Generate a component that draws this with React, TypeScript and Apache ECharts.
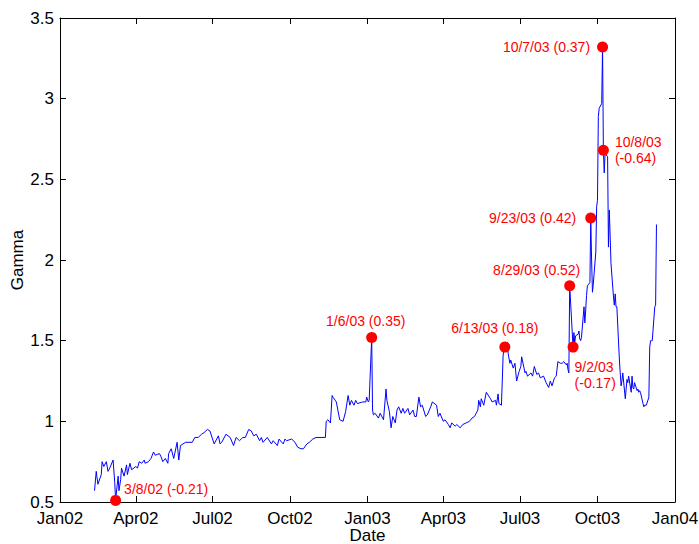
import React, { useEffect, useRef } from "react";
import * as echarts from "echarts";

const dates: string[] = [
  "2002-02-11","2002-02-13","2002-02-15","2002-02-19","2002-02-20","2002-02-22","2002-02-25","2002-02-27",
  "2002-03-01","2002-03-05","2002-03-07","2002-03-08","2002-03-11","2002-03-12","2002-03-14","2002-03-15",
  "2002-03-18","2002-03-21","2002-03-22","2002-03-25","2002-03-27","2002-04-01","2002-04-03","2002-04-05",
  "2002-04-08","2002-04-11","2002-04-12","2002-04-16","2002-04-19","2002-04-22","2002-04-24","2002-04-29",
  "2002-05-01","2002-05-03","2002-05-06","2002-05-09","2002-05-10","2002-05-13","2002-05-16","2002-05-20",
  "2002-05-22","2002-05-24","2002-05-30","2002-06-07","2002-06-10","2002-06-14","2002-06-18","2002-06-21",
  "2002-06-25","2002-06-28","2002-07-03","2002-07-08","2002-07-10","2002-07-12","2002-07-17","2002-07-22",
  "2002-07-26","2002-07-29","2002-08-02","2002-08-06","2002-08-09","2002-08-13","2002-08-16","2002-08-19",
  "2002-08-22","2002-08-26","2002-08-28","2002-08-30","2002-09-04","2002-09-09","2002-09-11","2002-09-16",
  "2002-09-18","2002-09-23","2002-09-25","2002-09-27","2002-10-03","2002-10-07","2002-10-10","2002-10-14",
  "2002-10-17","2002-10-21","2002-10-24","2002-10-28","2002-11-01","2002-11-08","2002-11-12","2002-11-13",
  "2002-11-15","2002-11-18","2002-11-20","2002-11-21","2002-11-25","2002-11-29","2002-12-03","2002-12-06",
  "2002-12-09","2002-12-11","2002-12-13","2002-12-16","2002-12-18","2002-12-20","2002-12-26","2002-12-30",
  "2002-12-31","2003-01-02","2003-01-03","2003-01-06","2003-01-07","2003-01-08","2003-01-10","2003-01-14",
  "2003-01-16","2003-01-20","2003-01-23","2003-01-24","2003-01-27","2003-01-29","2003-01-31","2003-02-03",
  "2003-02-05","2003-02-07","2003-02-10","2003-02-12","2003-02-14","2003-02-18","2003-02-20","2003-02-24",
  "2003-02-26","2003-02-28","2003-03-03","2003-03-05","2003-03-07","2003-03-11","2003-03-13","2003-03-17",
  "2003-03-19","2003-03-24","2003-03-26","2003-03-28","2003-04-01","2003-04-03","2003-04-07","2003-04-09",
  "2003-04-11","2003-04-15","2003-04-17","2003-04-21","2003-04-24","2003-04-28","2003-05-02","2003-05-05",
  "2003-05-08","2003-05-12","2003-05-13","2003-05-15","2003-05-16","2003-05-19","2003-05-22","2003-05-27",
  "2003-05-29","2003-06-02","2003-06-03","2003-06-05","2003-06-06","2003-06-09","2003-06-11","2003-06-12",
  "2003-06-13","2003-06-16","2003-06-17","2003-06-19","2003-06-20","2003-06-23","2003-06-25","2003-06-27",
  "2003-06-30","2003-07-02","2003-07-03","2003-07-07","2003-07-08","2003-07-10","2003-07-14","2003-07-16",
  "2003-07-18","2003-07-21","2003-07-23","2003-07-25","2003-07-29","2003-08-01","2003-08-04","2003-08-06",
  "2003-08-08","2003-08-11","2003-08-13","2003-08-15","2003-08-18","2003-08-20","2003-08-22","2003-08-25",
  "2003-08-26","2003-08-27","2003-08-28","2003-08-29","2003-09-02","2003-09-03","2003-09-04","2003-09-05",
  "2003-09-08","2003-09-09","2003-09-10","2003-09-11","2003-09-12","2003-09-15","2003-09-16","2003-09-17",
  "2003-09-18","2003-09-19","2003-09-22","2003-09-23","2003-09-24","2003-09-25","2003-09-26","2003-09-29",
  "2003-09-30","2003-10-01","2003-10-02","2003-10-03","2003-10-06","2003-10-07","2003-10-08","2003-10-09",
  "2003-10-10","2003-10-13","2003-10-14","2003-10-15","2003-10-16","2003-10-17","2003-10-20","2003-10-21",
  "2003-10-22","2003-10-23","2003-10-24","2003-10-27","2003-10-28","2003-10-29","2003-10-30","2003-10-31",
  "2003-11-03","2003-11-04","2003-11-05","2003-11-06","2003-11-07","2003-11-10","2003-11-11","2003-11-12",
  "2003-11-13","2003-11-14","2003-11-17","2003-11-18","2003-11-19","2003-11-20","2003-11-21","2003-11-24",
  "2003-11-25","2003-11-26","2003-11-28","2003-12-01","2003-12-02","2003-12-03","2003-12-04","2003-12-05",
  "2003-12-08","2003-12-09","2003-12-10",
];

const gamma: number[] = [
  0.57,0.69,0.61,0.67,0.75,0.72,0.75,0.69,
  0.71,0.76,0.62,0.51,0.66,0.57,0.64,0.71,
  0.66,0.73,0.67,0.74,0.70,0.72,0.71,0.75,
  0.74,0.76,0.74,0.75,0.77,0.81,0.79,0.80,
  0.78,0.75,0.77,0.74,0.80,0.83,0.77,0.87,
  0.76,0.85,0.87,0.87,0.90,0.90,0.92,0.93,
  0.95,0.94,0.86,0.91,0.86,0.87,0.92,0.90,
  0.85,0.90,0.88,0.90,0.90,0.95,0.94,0.91,
  0.92,0.88,0.90,0.87,0.90,0.86,0.88,0.85,
  0.89,0.86,0.89,0.88,0.89,0.87,0.84,0.83,
  0.83,0.86,0.87,0.89,0.90,0.90,0.90,1.00,
  1.01,0.99,1.16,1.15,1.12,1.01,1.00,1.06,
  1.16,1.10,1.13,1.10,1.13,1.11,1.12,1.12,
  1.15,1.12,1.13,1.52,1.07,1.04,1.05,1.02,
  1.05,1.01,1.20,1.13,1.06,0.96,1.03,0.99,
  1.07,1.09,1.05,1.08,1.05,1.08,1.04,1.07,
  1.03,1.03,1.15,1.09,1.10,1.03,1.04,1.09,
  1.12,1.10,1.03,1.05,1.00,1.01,0.98,0.96,
  0.99,0.97,0.98,0.96,0.98,0.99,1.00,1.02,
  1.03,1.07,1.13,1.09,1.14,1.10,1.18,1.14,
  1.12,1.13,1.10,1.17,1.11,1.10,1.41,1.44,
  1.46,1.49,1.42,1.36,1.38,1.33,1.36,1.25,
  1.31,1.34,1.40,1.30,1.31,1.28,1.30,1.28,
  1.34,1.29,1.30,1.27,1.28,1.24,1.21,1.25,
  1.22,1.27,1.28,1.37,1.36,1.36,1.37,1.35,
  1.36,1.32,1.30,1.84,1.46,1.55,1.49,1.53,
  1.54,1.56,1.51,1.50,1.52,1.71,1.61,1.69,
  1.78,1.84,1.86,2.26,2.00,1.80,1.85,2.05,
  2.33,2.37,2.89,2.94,2.97,3.32,2.68,2.54,
  2.66,2.64,2.08,2.31,2.15,1.98,1.77,1.72,
  1.79,1.71,1.71,1.38,1.30,1.22,1.25,1.30,
  1.14,1.20,1.26,1.24,1.28,1.18,1.28,1.21,
  1.20,1.24,1.19,1.20,1.18,1.19,1.18,1.11,
  1.09,1.10,1.10,1.15,1.46,1.50,1.50,1.50,
  1.71,1.72,2.22,
];

const eventDates: string[] = ["2002-03-08","2003-01-06","2003-06-13","2003-08-29","2003-09-02","2003-09-23","2003-10-07","2003-10-08"];
const eventGamma: number[] = [0.51, 1.52, 1.46, 1.84, 1.46, 2.26, 3.32, 2.68];
const eventLabels: string[] = ["3/8/02 (-0.21)","1/6/03 (0.35)","6/13/03 (0.18)","8/29/03 (0.52)","9/2/03\n(-0.17)","9/23/03 (0.42)","10/7/03 (0.37)","10/8/03\n(-0.64)"];

const monthNames = ["Jan","Feb","Mar","Apr","May","Jun","Jul","Aug","Sep","Oct","Nov","Dec"];
const FONT = "'Liberation Sans', Arial, Helvetica, sans-serif";

const labelLayouts: any[] = [
  { position: "right", distance: 3, offset: [0, -11] },
  { position: "top", distance: 3, offset: [-6, 0] },
  { position: "top", distance: 6, offset: [-10, 0] },
  { position: "top", distance: 2, offset: [-33, 0] },
  { position: [7, 17], align: "left", verticalAlign: "top" },
  { position: "left", distance: 9 },
  { position: "left", distance: 7 },
  { position: "right", distance: 6 },
];

export default function App() {
  const ref = useRef<HTMLDivElement>(null);
  useEffect(() => {
    if (!ref.current) return;
    const chart = echarts.init(ref.current, undefined, { renderer: "svg" });
    const lineData = dates.map((d, i) => [d, gamma[i]]);
    const eventData = eventDates.map((d, i) => ({
      value: [d, eventGamma[i]],
      label: { show: true, formatter: eventLabels[i], ...labelLayouts[i] },
    }));
    const axisLine = { show: true, lineStyle: { color: "#000", width: 1 } };
    const tick = { show: true, inside: true, length: 6, lineStyle: { color: "#000", width: 1 } };
    const tMin = "2002-01-01";
    const tMax = "2004-01-01";
    chart.setOption({
      animation: false,
      backgroundColor: "#fff",
      grid: { left: 60, right: 24, top: 18, bottom: 42, containLabel: false, outerBoundsMode: "none" },
      xAxis: [
        {
          type: "time",
          min: tMin,
          max: tMax,
          splitNumber: 8,
          minInterval: 85 * 86400000,
          maxInterval: 95 * 86400000,
          axisLine,
          axisTick: tick,
          splitLine: { show: false },
          axisLabel: {
            color: "#000",
            fontSize: 17,
            lineHeight: 16,
            fontFamily: FONT,
            fontWeight: "normal",
            margin: 8,
            showMinLabel: true,
            showMaxLabel: true,
            hideOverlap: false,
            formatter: (v: number) => {
              const d = new Date(v);
              return monthNames[d.getMonth()] + String(d.getFullYear()).slice(2);
            },
          },
          name: "Date",
          nameLocation: "middle",
          nameGap: 25,
          nameMoveOverlap: false,
          nameTextStyle: { color: "#000", fontSize: 17, lineHeight: 17, fontFamily: FONT },
        },
        {
          type: "time",
          position: "top",
          min: tMin,
          max: tMax,
          splitNumber: 8,
          minInterval: 85 * 86400000,
          maxInterval: 95 * 86400000,
          axisLine,
          axisTick: tick,
          axisLabel: { show: false },
          splitLine: { show: false },
        },
      ],
      yAxis: [
        {
          type: "value",
          min: 0.5,
          max: 3.5,
          interval: 0.5,
          axisLine,
          axisTick: tick,
          splitLine: { show: false },
          axisLabel: { color: "#000", fontSize: 17, lineHeight: 16, fontFamily: FONT, margin: 6 },
          name: "Gamma",
          nameLocation: "middle",
          nameGap: 34,
          nameMoveOverlap: false,
          nameTextStyle: { color: "#000", fontSize: 17, fontFamily: FONT },
        },
        {
          type: "value",
          position: "right",
          min: 0.5,
          max: 3.5,
          interval: 0.5,
          axisLine,
          axisTick: tick,
          axisLabel: { show: false },
          splitLine: { show: false },
        },
      ],
      series: [
        {
          type: "line",
          data: lineData,
          showSymbol: false,
          symbol: "none",
          lineStyle: { color: "#0000ff", width: 1 },
          z: 2,
        },
        {
          type: "scatter",
          data: eventData,
          symbol: "circle",
          symbolSize: 11,
          itemStyle: { color: "#ff0000", opacity: 1 },
          label: { color: "#ff0000", fontSize: 14, fontFamily: FONT, lineHeight: 16 },
          z: 3,
        },
      ],
    });
    return () => chart.dispose();
  }, []);
  return <div ref={ref} style={{ width: 699, height: 544, position: "absolute", left: 0, top: 0 }} />;
}
